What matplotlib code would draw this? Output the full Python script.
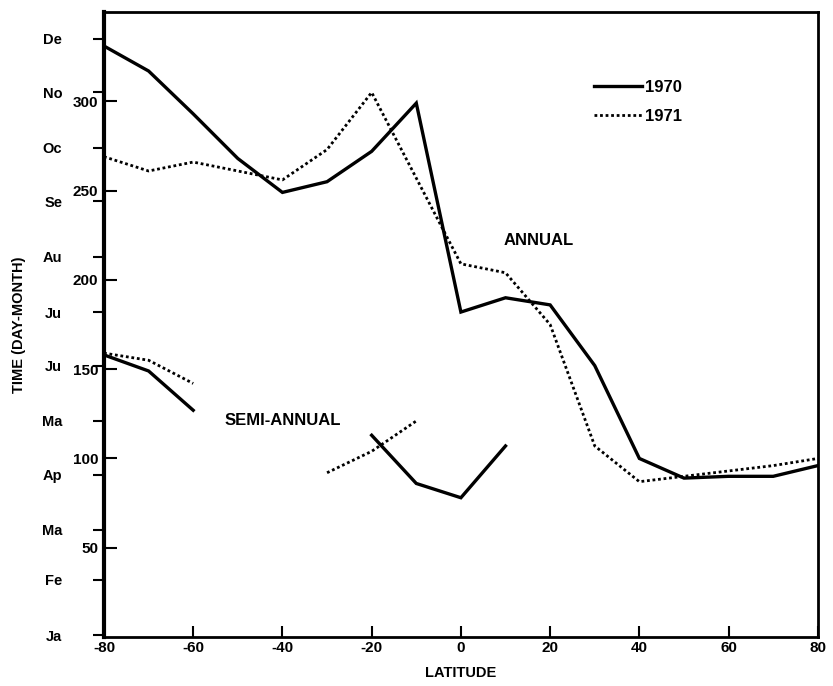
import matplotlib.pyplot as plt
from matplotlib.ticker import FixedLocator, FixedFormatter

plt.rcParams['font.family'] = ['Liberation Sans', 'DejaVu Sans']
plt.rcParams['font.weight'] = 'bold'
plt.rcParams['axes.labelweight'] = 'bold'
plt.rcParams['axes.unicode_minus'] = False

# annual maximum, day of year vs latitude
lat = [-80, -70, -60, -50, -40, -30, -20, -10, 0, 10, 20, 30, 40, 50, 60, 70, 80]
annual_1970 = [331, 317, 293, 268, 249, 255, 272, 299, 182, 190, 186, 152, 100, 89, 90, 90, 96]
annual_1971 = [269, 261, 266, 261, 256, 273, 305, 257, 209, 204, 175, 107, 87, 90, 93, 96, 100]

# semi-annual pieces
semi_lat_s1 = [-80, -70, -60]
semi_1970_s1 = [158, 149, 127]
semi_1971_s1 = [159, 155, 142]
semi_lat_1970_c = [-20, -10, 0, 10]
semi_1970_c = [113, 86, 78, 107]
semi_lat_1971_c = [-30, -20, -10]
semi_1971_c = [92, 104, 121]

day_ticks = [50, 100, 150, 200, 250, 300]
month_days = [1, 32, 60, 91, 121, 152, 182, 213, 244, 274, 305, 335]
month_names = ['Ja', 'Fe', 'Ma', 'Ap', 'Ma', 'Ju', 'Ju', 'Au', 'Se', 'Oc', 'No', 'De']

fig = plt.figure(figsize=(8.33, 6.86), dpi=100)
ax = fig.add_axes([0.1248, 0.0714, 0.857, 0.911])

solid = dict(color='black', lw=2.4, solid_joinstyle='miter')
dotted = dict(color='black', lw=2.0, linestyle=(0, (1, 1)))

ax.plot(lat, annual_1970, label='1970', **solid)
ax.plot(lat, annual_1971, label='1971', **dotted)
ax.plot(semi_lat_s1, semi_1970_s1, **solid)
ax.plot(semi_lat_s1, semi_1971_s1, **dotted)
ax.plot(semi_lat_1970_c, semi_1970_c, **solid)
ax.plot(semi_lat_1971_c, semi_1971_c, **dotted)

ax.set_xlim(-80, 80)
ax.set_ylim(0, 350)
ax.set_xticks([-80, -60, -40, -20, 0, 20, 40, 60, 80])
ax.tick_params(axis='x', direction='in', length=8, width=1.5, labelsize=11, pad=3)

ax.yaxis.set_major_locator(FixedLocator(day_ticks))
ax.yaxis.set_minor_locator(FixedLocator(month_days))
ax.yaxis.set_minor_formatter(FixedFormatter(month_names))
ax.tick_params(axis='y', which='major', direction='in', length=9, width=1.5, labelsize=11, pad=4)
ax.tick_params(axis='y', which='minor', direction='out', length=8, width=1.5, labelsize=10.5, pad=22)

for s in ax.spines.values():
    s.set_linewidth(2.0)
ax.spines['left'].set_linewidth(3.0)

ax.set_xlabel('LATITUDE', fontsize=10.5, labelpad=8)
ax.set_ylabel('TIME (DAY-MONTH)', fontsize=10.5)
ax.yaxis.set_label_coords(-0.109, 0.5)

ax.text(17.5, 222, 'ANNUAL', fontsize=12, ha='center', va='center')
ax.text(-40, 121, 'SEMI-ANNUAL', fontsize=12, ha='center', va='center')

ax.legend(loc='upper left', bbox_to_anchor=(0.675, 0.905), frameon=False,
          handlelength=2.9, handletextpad=0.15, labelspacing=0.85,
          borderpad=0, prop={'size': 12, 'weight': 'bold'})

fig.savefig('out.png', dpi=100)
